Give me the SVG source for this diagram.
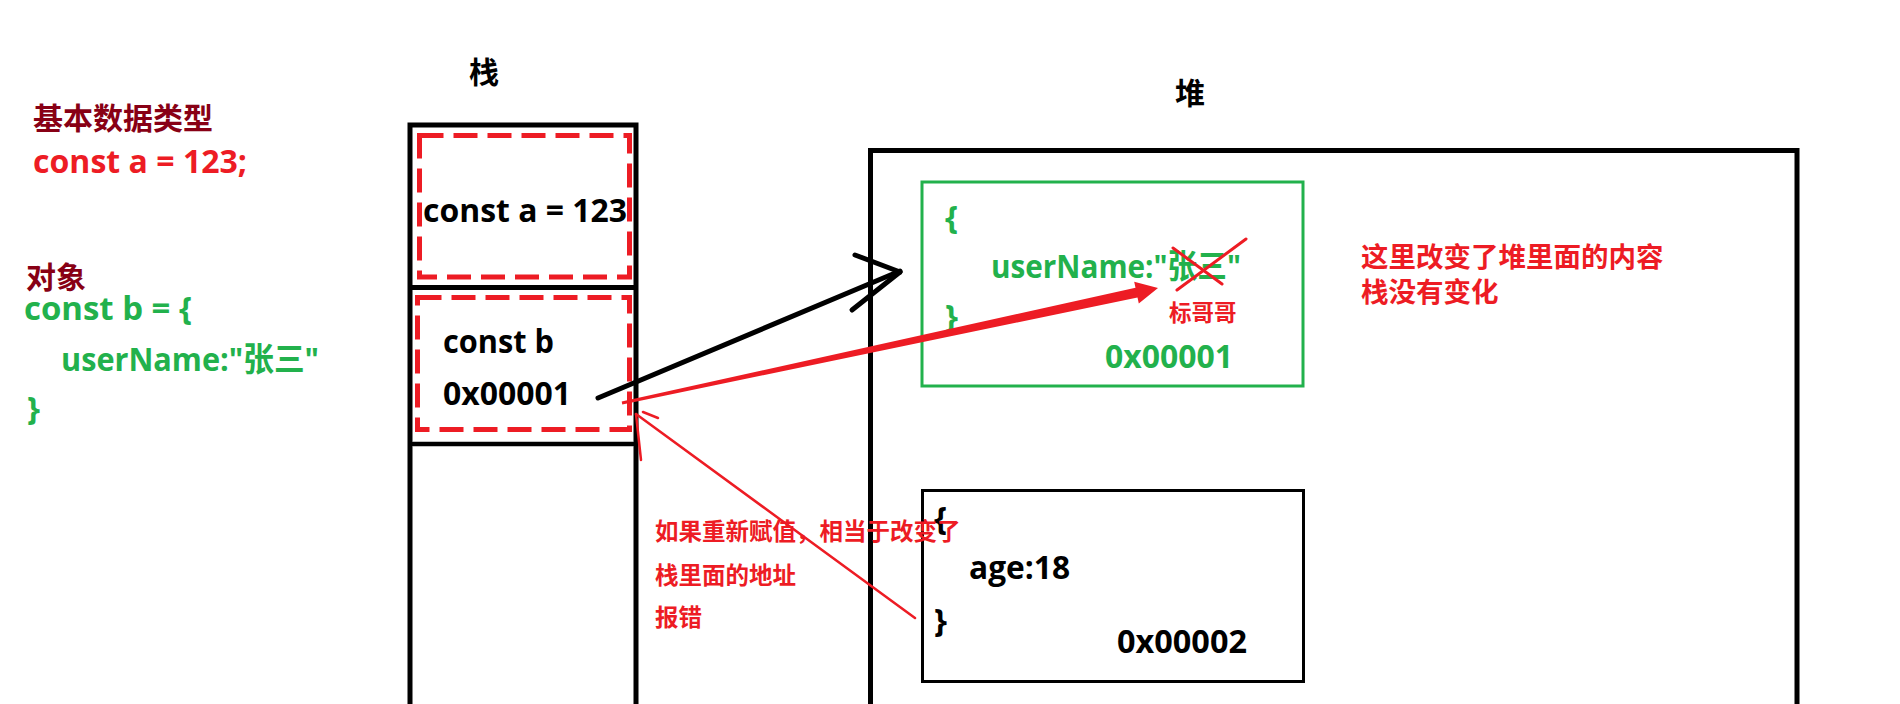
<svg xmlns="http://www.w3.org/2000/svg" width="1900" height="704" viewBox="0 0 1900 704">
<style>
.lat{font-family:"Open Sans","Noto Sans CJK SC",sans-serif;font-weight:bold;font-size:33px}
.cjk{font-family:"Noto Sans CJK SC",sans-serif;font-weight:bold}
.dred{fill:#880015}
.red{fill:#ED1C24}
.grn{fill:#22B14C}
.blk{fill:#000}
.box{fill:none;stroke:#000;stroke-width:5}
.dash{fill:none;stroke:#ED1C24;stroke-width:5;stroke-dasharray:24 10}
</style>
<rect width="1900" height="704" fill="#fff"/>

<g id="code-basic">
<text class="cjk dred" x="33" y="129" font-size="30">基本数据类型</text>
<text class="lat red" x="33" y="173" textLength="214" lengthAdjust="spacingAndGlyphs">const a = 123;</text>
</g>

<g id="code-object">
<text class="cjk dred" x="26" y="288" font-size="30">对象</text>
<text class="lat grn" x="24" y="320" textLength="168" lengthAdjust="spacingAndGlyphs">const b = {</text>
<text class="lat grn" x="61" y="371" textLength="258" lengthAdjust="spacingAndGlyphs">userName:"张三"</text>
<text class="lat grn" x="27" y="420">}</text>
</g>

<g id="stack">
<text class="cjk blk" x="469" y="83" font-size="30">栈</text>
<path class="box" d="M410,760 V125 H636 V760"/>
<line x1="410" y1="287.5" x2="636" y2="287.5" stroke="#000" stroke-width="5"/>
<line x1="413" y1="444" x2="633" y2="444" stroke="#000" stroke-width="4.5" stroke-linecap="round"/>
</g>

<g id="stack-a">
<rect class="dash" x="419.5" y="135.5" width="210" height="141.5"/>
<text class="lat blk" x="423" y="222" textLength="204" lengthAdjust="spacingAndGlyphs">const a = 123</text>
</g>

<g id="stack-b">
<rect class="dash" x="417.5" y="297.5" width="212" height="132"/>
<text class="lat blk" x="443" y="353" textLength="111" lengthAdjust="spacingAndGlyphs">const b</text>
<text class="lat blk" x="443" y="405" textLength="128" lengthAdjust="spacingAndGlyphs">0x00001</text>
</g>

<g id="heap">
<text class="cjk blk" x="1175" y="104" font-size="30">堆</text>
<path class="box" d="M870.5,760 V150.5 H1797 V760"/>
</g>

<g id="obj1">
<rect x="922" y="182" width="381" height="204" fill="none" stroke="#22B14C" stroke-width="3"/>
<text class="lat grn" x="945" y="229">{</text>
<text class="lat grn" x="991" y="278" textLength="250" lengthAdjust="spacingAndGlyphs">userName:"张三"</text>
<text class="lat grn" x="945" y="328">}</text>
<text class="lat grn" x="1105" y="368" textLength="128" lengthAdjust="spacingAndGlyphs">0x00001</text>
<text class="cjk red" x="1169" y="321" font-size="22.5">标哥哥</text>
</g>

<g id="obj2">
<rect x="922.5" y="490.5" width="381" height="191" fill="none" stroke="#000" stroke-width="3"/>
<text class="lat blk" x="934" y="530">{</text>
<text class="lat blk" x="969" y="579" textLength="101" lengthAdjust="spacingAndGlyphs">age:18</text>
<text class="lat blk" x="934" y="632">}</text>
<text class="lat blk" x="1117" y="653" textLength="130" lengthAdjust="spacingAndGlyphs">0x00002</text>
</g>

<g id="note-heap">
<text class="cjk red" x="1361" y="267" font-size="27.5">这里改变了堆里面的内容</text>
<text class="cjk red" x="1361" y="302" font-size="27.5">栈没有变化</text>
</g>

<g id="note-reassign">
<text class="cjk red" x="655" y="540" font-size="23.5">如果重新赋值，相当于改变了</text>
<text class="cjk red" x="655" y="584" font-size="23.5">栈里面的地址</text>
<text class="cjk red" x="655" y="626" font-size="23.5">报错</text>
</g>

<g id="connectors">
<g stroke="#000" stroke-width="5" stroke-linecap="round" fill="none">
<line x1="598" y1="398" x2="900" y2="271"/>
<line x1="855" y1="255" x2="900" y2="272"/>
<line x1="852" y1="310" x2="900" y2="272"/>
</g>
<polygon fill="#ED1C24" points="622.3,404.5 1137.5,297.5 1138.8,303.4 1158,288 1134.2,281.8 1135.5,287.7 621.7,401.5"/>
<g stroke="#ED1C24" stroke-width="2.5" stroke-linecap="round" fill="none">
<line x1="915" y1="618" x2="636" y2="414"/>
<line x1="636" y1="414" x2="641" y2="460"/>
<line x1="643" y1="412" x2="658" y2="418"/>
</g>
<g stroke="#ED1C24" stroke-width="3" stroke-linecap="round">
<line x1="1173" y1="248" x2="1222" y2="284"/>
<line x1="1246" y1="239" x2="1177" y2="290"/>
</g>
</g>
</svg>
